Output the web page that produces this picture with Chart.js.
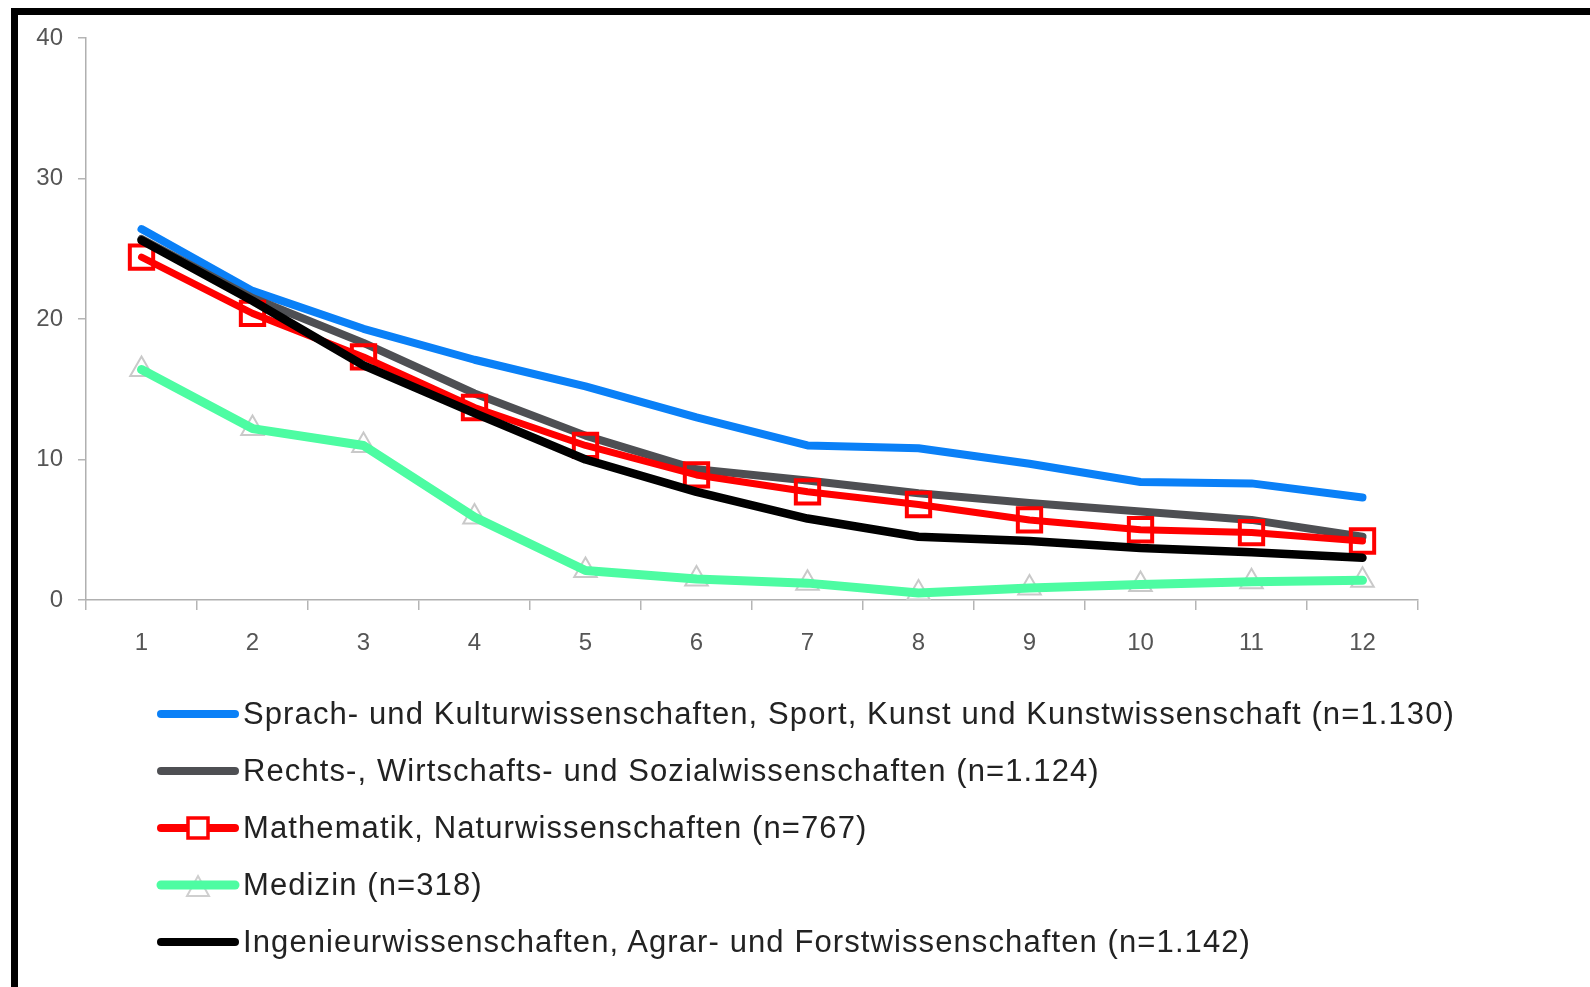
<!DOCTYPE html>
<html>
<head>
<meta charset="utf-8">
<script src="https://cdn.jsdelivr.net/npm/chart.js@4.4.0/dist/chart.umd.min.js"></script>
<style>
  body { margin: 0; background: #fff; width: 1590px; height: 987px; overflow: hidden; position: relative;
         font-family: "Liberation Sans", Arial, sans-serif; }
  #frame { position: absolute; left: 11px; top: 8px; right: -20px; bottom: -20px;
           border-top: 7px solid #000; border-left: 7px solid #000; }
  #wrap { position: absolute; left: 0; top: 0; width: 1590px; height: 680px; }
  #legend { position: absolute; left: 156px; top: 686px; }
  .item { height: 56.8px; display: flex; align-items: center; }
  .item span { font-size: 31px; letter-spacing: 1.1px; color: #222; margin-left: 3px; white-space: nowrap; }
</style>
</head>
<body>
<div id="frame"></div>
<div id="wrap"><canvas id="myChart"></canvas></div>
<div id="legend"></div>
<script>
// Semester 1..12, Anteil in %
var categories = ['1', '2', '3', '4', '5', '6', '7', '8', '9', '10', '11', '12'];
var sprach    = [26.4, 22.0, 19.3, 17.1, 15.2, 13.0, 11.0, 10.8, 9.7, 8.4, 8.3, 7.3];
var rechts    = [25.7, 21.5, 18.3, 14.7, 11.7, 9.3, 8.5, 7.6, 6.9, 6.3, 5.7, 4.5];
var mathe     = [24.4, 20.4, 17.3, 13.7, 11.0, 8.9, 7.7, 6.8, 5.7, 5.0, 4.8, 4.2];
var medizin   = [16.4, 12.2, 11.0, 5.9, 2.1, 1.5, 1.2, 0.5, 0.85, 1.1, 1.3, 1.4];
var ingenieur = [25.6, 21.3, 16.7, 13.3, 10.0, 7.7, 5.8, 4.5, 4.2, 3.7, 3.4, 3.0];

var labels = [
    'Sprach- und Kulturwissenschaften, Sport, Kunst und Kunstwissenschaft (n=1.130)',
    'Rechts-, Wirtschafts- und Sozialwissenschaften (n=1.124)',
    'Mathematik, Naturwissenschaften (n=767)',
    'Medizin (n=318)',
    'Ingenieurwissenschaften, Agrar- und Forstwissenschaften (n=1.142)'
];
var colors = ['#0a80f7', '#4e4f53', '#ff0000', '#4dfca2', '#000000'];

function line(label, data, color, order, width) {
    return {
        label: label,
        data: data,
        borderColor: color,
        borderWidth: width,
        borderCapStyle: 'round',
        borderJoinStyle: 'round',
        pointRadius: 0,
        fill: false,
        order: order
    };
}

var mathSet = line(labels[2], mathe, colors[2], 3, 7);
mathSet.pointStyle = 'rect';
mathSet.pointRadius = 16.5;
mathSet.pointBorderWidth = 4;
mathSet.pointBackgroundColor = 'rgba(255,255,255,0)';
mathSet.pointBorderColor = colors[2];

var triangles = {
    label: 'Medizin marker',
    data: medizin,
    showLine: false,
    pointStyle: 'triangle',
    pointRadius: 13,
    pointBorderWidth: 2,
    pointBackgroundColor: 'rgba(255,255,255,0)',
    pointBorderColor: '#c9c9c9',
    order: 9
};

var ctx = document.getElementById('myChart').getContext('2d');
var myChart = new Chart(ctx, {
    type: 'line',
    data: {
        labels: categories,
        datasets: [
            line(labels[0], sprach, colors[0], 5, 8),
            line(labels[1], rechts, colors[1], 4, 8),
            mathSet,
            line(labels[3], medizin, colors[3], 2, 9),
            line(labels[4], ingenieur, colors[4], 1, 8.5),
            triangles
        ]
    },
    options: {
        responsive: true,
        maintainAspectRatio: false,
        animation: false,
        layout: { padding: { left: 0, right: 172, top: 38, bottom: 0 } },
        plugins: {
            legend: { display: false },
            tooltip: { enabled: false }
        },
        scales: {
            x: {
                offset: true,
                afterFit: function (s) { s.height = 80; },
                grid: { offset: true, drawOnChartArea: false, tickLength: 10, color: '#b5b5b5', lineWidth: 1.5 },
                border: { color: '#b0b0b0', width: 1.5 },
                ticks: { padding: 19, color: '#555', font: { family: 'Liberation Sans', size: 24 } }
            },
            y: {
                min: 0,
                max: 40,
                afterFit: function (s) { s.width = 86; },
                grid: { drawOnChartArea: false, tickLength: 8, color: '#b5b5b5', lineWidth: 1.5 },
                border: { color: '#b0b0b0', width: 1.5 },
                ticks: { stepSize: 10, padding: 15, color: '#555', font: { family: 'Liberation Sans', size: 24 } }
            }
        }
    }
});

// legend: one entry per line, sample line with marker
var legend = document.getElementById('legend');
labels.forEach(function (text, i) {
    var row = document.createElement('div');
    row.className = 'item';
    var c = document.createElement('canvas');
    c.width = 84; c.height = 40;
    var g = c.getContext('2d');
    if (i === 3) {
        g.strokeStyle = '#cfcfcf'; g.lineWidth = 2;
        g.beginPath(); g.moveTo(42, 11); g.lineTo(53, 31); g.lineTo(31, 31); g.closePath(); g.stroke();
    }
    g.strokeStyle = colors[i];
    g.lineWidth = i === 3 ? 9 : 8;
    g.lineCap = 'round';
    g.beginPath(); g.moveTo(5, 20); g.lineTo(79, 20); g.stroke();
    if (i === 2) {
        g.fillStyle = '#fff';
        g.fillRect(32, 10, 20, 20);
        g.lineWidth = 3.5;
        g.strokeRect(32, 10, 20, 20);
    }
    var span = document.createElement('span');
    span.textContent = text;
    row.appendChild(c);
    row.appendChild(span);
    legend.appendChild(row);
});
</script>
</body>
</html>
